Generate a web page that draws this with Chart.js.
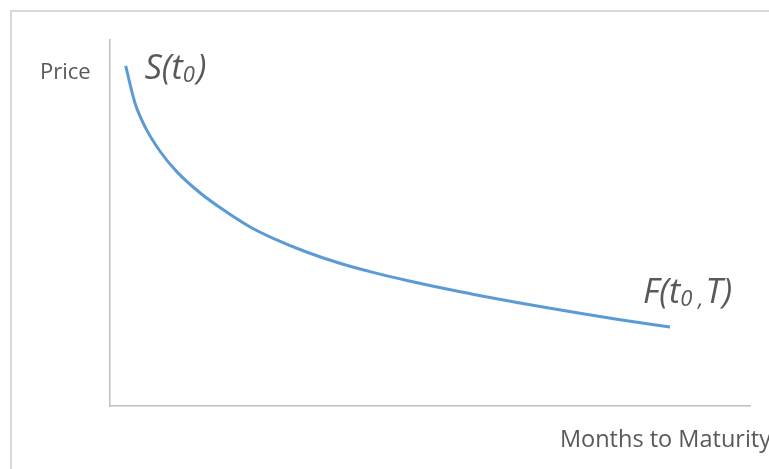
<!DOCTYPE html>
<html>
<head>
<meta charset="utf-8">
<script src="https://cdn.jsdelivr.net/npm/chart.js@4"></script>
<style>
  html, body { margin: 0; padding: 0; background: #ffffff; }
  #wrap { width: 769px; height: 469px; }
</style>
</head>
<body>
<div id="wrap"><canvas id="curve" width="769" height="469"></canvas></div>
<script>
// ── Forward curve data (backwardation: spot above futures) ──────────────────

const months = [2.45, 3.9, 5.5, 7.9, 10.5, 14.1, 17.7, 21.9, 25.5, 30.8,
                35.9, 41.1, 46.4, 53.6, 58.3, 63.6, 68.8, 73.9, 79.2, 87.5];
const prices = [92.9, 82.8, 76.2, 69.4, 63.9, 58.2, 53.6, 48.9, 45.8, 42.0,
                39.0, 36.5, 34.3, 31.6, 30.0, 28.3, 26.7, 25.2, 23.7, 21.6];

const yLabel = 'Price';
const xLabel = 'Months to Maturity';
const spotLabel = ['S(t', '0', ')'];
const futLabel = ['F(t', '0 ,', 'T)'];

const textColor = '#595959';
const lineColor = '#5b9bd5';
const axisColor = '#bfbfbf';
const frameColor = '#d9d9d9';
const fontFamily = "'Open Sans', 'Noto Sans', sans-serif";

// draws "main" + lowered subscript + "main" pieces, left to right
function drawSubscripted(ctx, parts, x, y, size, subSize) {
  let cx = x;
  parts.forEach((p, i) => {
    const isSub = i === 1;
    ctx.font = 'italic ' + (isSub ? subSize : size) + 'px ' + fontFamily;
    ctx.fillText(p, cx, isSub ? y + 3 : y);
    cx += ctx.measureText(p).width + (isSub ? 2 : 0);
  });
}

const annotations = {
  id: 'annotations',
  beforeDraw(chart) {
    const ctx = chart.ctx;
    ctx.save();
    ctx.strokeStyle = frameColor;
    ctx.lineWidth = 2;
    ctx.strokeRect(11, 11, 800, 500);
    ctx.restore();
  },
  afterDraw(chart) {
    const {ctx, scales} = chart;
    ctx.save();
    ctx.fillStyle = textColor;
    ctx.textBaseline = 'alphabetic';

    ctx.font = '22px ' + fontFamily;
    ctx.textAlign = 'left';
    ctx.fillText(yLabel, 40, 79);

    ctx.font = '23.5px ' + fontFamily;
    ctx.textAlign = 'right';
    ctx.fillText(xLabel, 771, 447);

    ctx.textAlign = 'left';
    const x0 = scales.x.getPixelForValue(months[0]);
    drawSubscripted(ctx, spotLabel, x0 + 19, 79, 34, 22);

    const xn = scales.x.getPixelForValue(months[months.length - 1]);
    const yn = scales.y.getPixelForValue(prices[prices.length - 1]);
    drawSubscripted(ctx, futLabel, xn - 27, yn - 24, 34, 22);
    ctx.restore();
  }
};

new Chart(document.getElementById('curve'), {
  type: 'line',
  data: {
    datasets: [{
      data: months.map((m, i) => ({x: m, y: prices[i]})),
      borderColor: lineColor,
      borderWidth: 3,
      pointRadius: 0,
      fill: false,
      cubicInterpolationMode: 'monotone',
    }]
  },
  options: {
    responsive: false,
    animation: false,
    layout: { padding: { left: 102, right: 19, top: 40, bottom: 55 } },
    plugins: {
      legend: { display: false },
      tooltip: { enabled: false }
    },
    scales: {
      x: {
        type: 'linear',
        min: 0,
        max: 100,
        grid: { display: false },
        ticks: { display: false },
        border: { display: true, color: axisColor, width: 1.5 }
      },
      y: {
        min: 0,
        max: 100,
        grid: { display: false },
        ticks: { display: false },
        border: { display: true, color: axisColor, width: 1.5 }
      }
    }
  },
  plugins: [annotations]
});
</script>
</body>
</html>
